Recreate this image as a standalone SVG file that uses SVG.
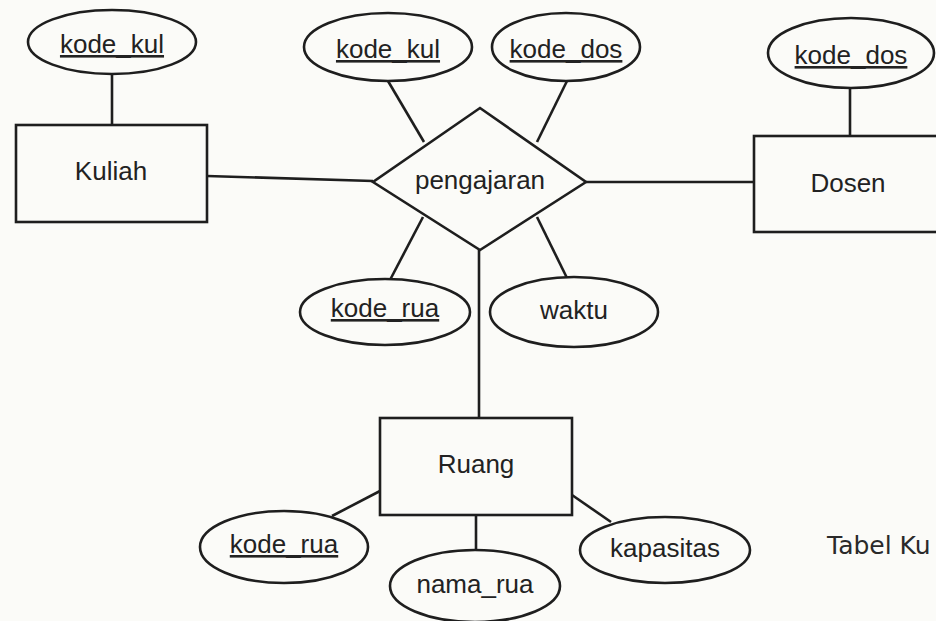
<svg xmlns="http://www.w3.org/2000/svg" width="936" height="621" viewBox="0 0 936 621">
<style>
.s{fill:none;stroke:#1e1e1e;stroke-width:2.6}
.b{fill:#fbfbf8;stroke:#1e1e1e;stroke-width:2.6}
.t{font-family:"Liberation Sans",Arial,sans-serif;font-size:26px;fill:#222;text-anchor:middle}
.u{text-decoration:underline}
</style>
<rect width="936" height="621" fill="#fbfbf8"/>
<g id="connectors" class="s">
<line x1="112" y1="74" x2="112" y2="125"/>
<line x1="207" y1="176" x2="373" y2="181"/>
<line x1="388" y1="81" x2="424" y2="142"/>
<line x1="567" y1="81" x2="537" y2="142"/>
<line x1="586" y1="182" x2="754" y2="182"/>
<line x1="850" y1="88" x2="850" y2="137"/>
<line x1="423" y1="217" x2="390" y2="280"/>
<line x1="537" y1="217" x2="567" y2="278"/>
<line x1="479" y1="250" x2="479" y2="418"/>
<line x1="380" y1="491" x2="332" y2="516"/>
<line x1="476" y1="515" x2="476" y2="551"/>
<line x1="572" y1="495" x2="611" y2="522"/>
</g>
<g id="attr_kode_kul_kuliah">
<ellipse class="b" cx="112" cy="42" rx="84" ry="32"/>
<text class="t u" x="112" y="53">kode_kul</text>
</g>
<g id="entity_kuliah">
<rect class="b" x="16" y="125" width="191" height="97"/>
<text class="t" x="111" y="180">Kuliah</text>
</g>
<g id="attr_kode_kul_rel">
<ellipse class="b" cx="388" cy="47" rx="84" ry="34"/>
<text class="t u" x="388" y="58">kode_kul</text>
</g>
<g id="attr_kode_dos_rel">
<ellipse class="b" cx="566" cy="47" rx="74" ry="34"/>
<text class="t u" x="566" y="58">kode_dos</text>
</g>
<g id="rel_pengajaran">
<polygon class="b" points="480,108 586,182 480,250 373,182"/>
<text class="t" x="480" y="189">pengajaran</text>
</g>
<g id="attr_kode_dos_dosen">
<ellipse class="b" cx="851" cy="53" rx="83" ry="35"/>
<text class="t u" x="851" y="64">kode_dos</text>
</g>
<g id="entity_dosen">
<rect class="b" x="754" y="136" width="200" height="96"/>
<text class="t" x="848" y="192">Dosen</text>
</g>
<g id="attr_kode_rua_rel">
<ellipse class="b" cx="385" cy="312" rx="85" ry="33"/>
<text class="t u" x="385" y="317">kode_rua</text>
</g>
<g id="attr_waktu">
<ellipse class="b" cx="574" cy="312" rx="84" ry="35"/>
<text class="t" x="574" y="319">waktu</text>
</g>
<g id="entity_ruang">
<rect class="b" x="380" y="418" width="192" height="97"/>
<text class="t" x="476" y="473">Ruang</text>
</g>
<g id="attr_kode_rua_ruang">
<ellipse class="b" cx="284" cy="547" rx="84" ry="36"/>
<text class="t u" x="284" y="553">kode_rua</text>
</g>
<g id="attr_nama_rua">
<ellipse class="b" cx="475" cy="586" rx="85" ry="36"/>
<text class="t" x="475" y="593">nama_rua</text>
</g>
<g id="attr_kapasitas">
<ellipse class="b" cx="665" cy="550" rx="85" ry="33"/>
<text class="t" x="665" y="557">kapasitas</text>
</g>
<text x="827" y="554" font-family="DejaVu Sans,sans-serif" font-size="25" fill="#2a2a2a">Tabel Ku</text>
</svg>
